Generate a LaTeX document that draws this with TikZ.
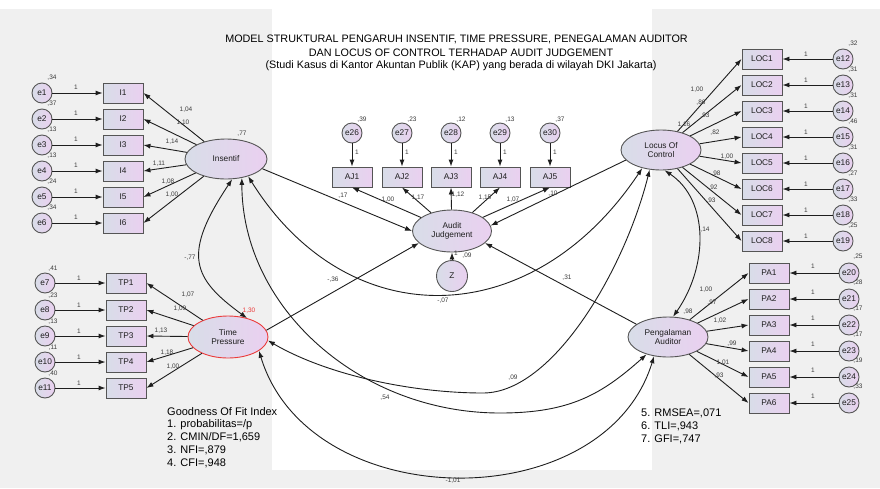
\documentclass[tikz,border=0pt]{standalone}
\usepackage{fontspec}
\setmainfont{Liberation Sans}
\usetikzlibrary{shapes.geometric,arrows.meta}
\definecolor{bggray}{RGB}{240,240,240}
\definecolor{gl}{RGB}{216,221,232}
\definecolor{gr}{RGB}{234,208,240}
\definecolor{bord}{RGB}{85,85,85}
\definecolor{tpred}{RGB}{235,60,60}
\definecolor{lbl}{RGB}{60,60,60}
\definecolor{lnc}{RGB}{30,30,30}
\definecolor{txt}{RGB}{30,30,30}
\begin{document}
\begin{tikzpicture}[x=1pt,y=-1pt,>={Latex[length=7pt,width=5pt]},
  gfill/.style={left color=gl,right color=gr,draw=bord,line width=0.9pt,text=txt},
  obs/.style={gfill,rectangle,minimum width=40pt,minimum height=20pt,inner sep=0pt,font=\fontsize{8.3}{9}\selectfont},
  err/.style={gfill,circle,minimum size=20pt,inner sep=0pt,font=\fontsize{8.3}{9}\selectfont},
  lat/.style={gfill,ellipse,minimum width=80pt,minimum height=40pt,inner sep=0pt,align=center,font=\fontsize{8.3}{9.5}\selectfont},
  lk/.style={draw=lnc,line width=0.9pt,->},
  cv/.style={draw=lnc,line width=0.9pt,<->},
  sl/.style={font=\fontsize{6.5}{7}\selectfont,text=lbl,inner sep=0pt},
  gof/.style={font=\fontsize{11}{13}\selectfont,anchor=west,inner sep=0pt,text=black},
  ttl/.style={font=\fontsize{10.8}{12}\selectfont,inner sep=0pt,text=black}
]
% background
\fill[white] (0,0) rectangle (880,488);
\fill[bggray] (0,9) rectangle (880,488);
\fill[white] (272,9) rectangle (652,470);
\useasboundingbox (0,0) rectangle (880,488);

% title
\node[ttl] (t1) at (456.5,39) {MODEL STRUKTURAL PENGARUH INSENTIF, TIME PRESSURE, PENEGALAMAN AUDITOR};
\node[ttl] (t2) at (461,52.5) {DAN LOCUS OF CONTROL TERHADAP AUDIT JUDGEMENT};
\node[ttl] (t3) at (461,66) {(Studi Kasus di Kantor Akuntan Publik (KAP) yang berada di wilayah DKI Jakarta)};

% latent variables
\node[lat,minimum width=82pt] (ins) at (226,159) {Insentif};
\node[lat,draw=tpred,minimum height=42pt] (tp) at (228,337) {Time\\Pressure};
\node[lat,minimum width=79pt,minimum height=42pt] (aj) at (452,231) {Audit\\Judgement};
\node[lat] (loc) at (661,150) {Locus Of\\Control};
\node[lat] (pa) at (668,337) {Pengalaman\\Auditor};
\node[err,minimum size=31pt] (z) at (452,276) {Z};

% Insentif indicators
\foreach \y/\v [count=\k] in {93/{,34},119/{,37},145/{,13},171/{,13},197/{,24},223/{,34}} {
  \node[err] (e\k) at (42,\y) {e\k};
  \node[obs] (I\k) at (123,\y) {I\k};
  \draw[lk] (e\k) -- (I\k);
  \node[sl] at (76,\y-6) {1};
  \node[sl] at (52,\y-15) {\v};
}
\foreach \k/\v/\lx/\ly in {1/{1,04}/186/110,2/{1,10}/183/123,3/{1,14}/172/142,4/{1,11}/159/164,5/{1,08}/168/182,6/{1,00}/172/195} {
  \draw[lk] (ins) -- (I\k.east);
  \node[sl] at (\lx,\ly) {\v};
}
\node[sl] at (242,134) {,77};

% Time Pressure indicators
\foreach \y/\v/\n [count=\k] in {283/{,41}/7,310/{,23}/8,336/{,13}/9,362/{,11}/10,388/{,40}/11} {
  \node[err] (e\n) at (45,\y) {e\n};
  \node[obs] (TP\k) at (126,\y) {TP\k};
  \draw[lk] (e\n) -- (TP\k);
  \node[sl] at (79,\y-5) {1};
  \node[sl] at (53,\y-14) {\v};
}
\foreach \k/\v/\lx/\ly in {1/{1,07}/188/295,2/{1,09}/180/309,3/{1,13}/161/331,4/{1,18}/167/353,5/{1,00}/173/367} {
  \draw[lk] (tp) -- (TP\k.east);
  \node[sl] at (\lx,\ly) {\v};
}
\node[sl,text=tpred] at (249,311) {1,30};

% Audit Judgement indicators
\foreach \x/\n/\v [count=\k] in {352/26/{,39},402/27/{,23},451/28/{,12},500/29/{,13},550/30/{,37}} {
  \node[err] (e\n) at (\x,133) {e\n};
  \node[obs] (AJ\k) at (\x,177) {AJ\k};
  \draw[lk] (e\n) -- (AJ\k);
  \node[sl] at (\x+5,152) {1};
  \node[sl] at (\x+10,120) {\v};
  \draw[lk] (aj) -- (AJ\k.south);
}
\foreach \v/\lx/\ly in {{1,00}/388/200,{1,17}/418/198,{1,12}/458/195,{1,15}/485/198,{1,07}/513/200} {
  \node[sl] at (\lx,\ly) {\v};
}
\draw[lk] (z) -- (aj);
\node[sl] at (456,253) {1};
\node[sl] at (467,256) {,09};

% Locus Of Control indicators
\foreach \y/\v/\n [count=\k] in {59/{,32}/12,85/{,31}/13,111/{,31}/14,137/{,46}/15,163/{,31}/16,189/{,27}/17,215/{,33}/18,241/{,25}/19} {
  \node[err] (e\n) at (843,\y) {e\n};
  \node[obs] (LOC\k) at (762,\y) {LOC\k};
  \draw[lk] (e\n) -- (LOC\k);
  \node[sl] at (806,\y-5) {1};
  \node[sl] at (853,\y-15) {\v};
  \draw[lk] (loc) -- (LOC\k.west);
}
\foreach \v/\lx/\ly in {{1,00}/697/90,{,86}/701/103,{,93}/705/116,{1,16}/684/125,{,82}/715/133,{1,00}/727/157,{,98}/716/174,{,92}/713/188,{,93}/711/201} {
  \node[sl] at (\lx,\ly) {\v};
}

% Pengalaman Auditor indicators
\foreach \y/\v/\n [count=\k] in {273/{,25}/20,299/{,28}/21,325/{,17}/22,351/{,17}/23,377/{,19}/24,403/{,33}/25} {
  \node[err] (e\n) at (849,\y) {e\n};
  \node[obs] (PA\k) at (769,\y) {PA\k};
  \draw[lk] (e\n) -- (PA\k);
  \node[sl] at (813,\y-7) {1};
  \node[sl] at (858,\y-16) {\v};
  \draw[lk] (pa) -- (PA\k.west);
}
\foreach \v/\lx/\ly in {{1,00}/706/290,{,97}/712/303,{,98}/688/312,{1,02}/720/321,{,99}/732/344,{1,01}/723/363,{,93}/719/376} {
  \node[sl] at (\lx,\ly) {\v};
}

% structural paths
\draw[lk] (ins.345) -- (aj.180);
\draw[lk] (tp.10) -- (aj.200);
\draw[lk] (loc.196) -- (aj.8);
\draw[lk] (pa.158) -- (aj.340);
\node[sl] at (343,196) {,17};
\node[sl] at (333,280) {-,36};
\node[sl] at (553,194) {,10};
\node[sl] at (567,278) {,31};

% covariances
\coordinate (m54) at (500,413);
\coordinate (m09) at (483,393);
\draw[cv] (ins.287) .. controls +(-50,75) and +(-55,-40) .. (tp.45);
\draw[cv] (ins.322) .. controls +(100,160) and +(-110,165) .. (loc.224);
\draw[cv] (ins.310) .. controls +(0,130) and +(-140,0) .. (m54) .. controls +(70,0) and +(-45,40) .. (pa.219);
\draw[cv] (tp.355) .. controls +(60,35) and +(-70,0) .. (m09) .. controls +(70,0) and +(-25,100) .. (loc.240);
\draw[cv] (tp.336) .. controls +(50,165) and +(-50,163) .. (pa.234);
\draw[cv] (loc.280) .. controls +(45,30) and +(35,-50) .. (pa.76);
\node[sl] at (190,258) {-,77};
\node[sl] at (443,301) {-,07};
\node[sl] at (385,398) {,54};
\node[sl] at (513,378) {,09};
\node[sl] at (453,481) {-1,01};
\node[sl] at (705,230) {,14};

% goodness of fit
\node[gof] (g0) at (167,412) {Goodness Of Fit Index};
\node[gof] (g1) at (167,425) {1. probabilitas=/p};
\node[gof] (g2) at (167,437.5) {2. CMIN/DF=1,659};
\node[gof] (g3) at (167,450.5) {3. NFI=,879};
\node[gof] (g4) at (167,463) {4. CFI=,948};
\node[gof] (g5) at (641,413) {5. RMSEA=,071};
\node[gof] (g6) at (641,426) {6. TLI=,943};
\node[gof] (g7) at (641,439) {7. GFI=,747};
\end{tikzpicture}
\end{document}
